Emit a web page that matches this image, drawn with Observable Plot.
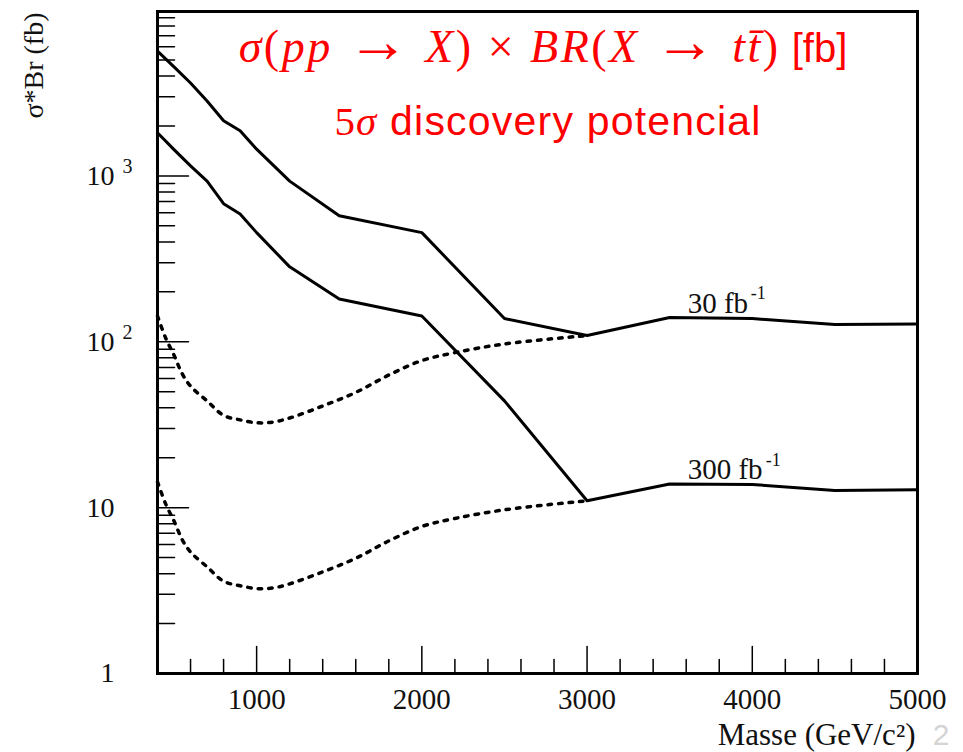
<!DOCTYPE html>
<html>
<head>
<meta charset="utf-8">
<script src="https://cdn.jsdelivr.net/npm/d3@7"></script>
<script src="https://cdn.jsdelivr.net/npm/@observablehq/plot@0.6"></script>
<style>
  html, body { margin: 0; padding: 0; background: #fff; }
  #chart svg { display: block; }
</style>
</head>
<body>
<div id="chart"></div>
<script>
// Resonance mass (GeV/c²) and 5σ discovery reach in σ×BR (fb)
const massSolid = [400, 500, 600, 700, 800, 900, 1000, 1200, 1500, 2000, 2500, 3000, 3500, 4000, 4500, 5000];
const reach30   = [5660, 4540, 3630, 2830, 2150, 1870, 1450, 930, 575, 455, 138, 109, 140, 138, 127, 128];
const reach300  = [1820, 1440, 1150, 930, 680, 590, 455, 283, 181, 143, 44, 11.0, 13.9, 13.8, 12.7, 12.8];

const massDotted = [400, 450, 500, 550, 600, 700, 800, 900, 1000, 1100, 1200, 1400, 1600, 1800, 2000, 2200, 2500, 3000];
const dotted30   = [143, 105, 83, 64, 54, 44, 36, 33.8, 32.5, 32.8, 34.7, 41, 49.5, 63, 77, 86, 97, 109];
const dotted300  = [14.3, 10.5, 8.3, 6.4, 5.4, 4.4, 3.6, 3.38, 3.25, 3.28, 3.47, 4.1, 4.95, 6.3, 7.7, 8.6, 9.7, 11.0];

// Luminosity labels
const lumiNames = ["30", "300"];
const lumiText  = ["30 fb", "300 fb"];
const lumiExp   = ["-1", "-1"];
const labelMass = 3500;

// Axis ticks and labels
const xMajor = [1000, 2000, 3000, 4000, 5000];
const xTickLabels = ["1000", "2000", "3000", "4000", "5000"];
const xMinor = [600, 800, 1200, 1400, 1600, 1800, 2200, 2400, 2600, 2800,
                3200, 3400, 3600, 3800, 4200, 4400, 4600, 4800];
const yTicks = [1, 10, 100, 1000];
const yTickBase = ["1", "10", "10", "10"];
const yTickExp  = ["", "", "2", "3"];
const yMajor = [10, 100, 1000];
const yMinor = [2, 3, 4, 5, 6, 7, 8, 9,
                20, 30, 40, 50, 60, 70, 80, 90,
                200, 300, 400, 500, 600, 700, 800, 900,
                2000, 3000, 4000, 5000, 6000, 7000, 8000, 9000];

const xLabel = "Masse (GeV/c²)";
const yLabel = "σ*Br (fb)";

// Tables for the line marks
const reachSeries = [reach30, reach300];
const dottedSeries = [dotted30, dotted300];
const solidData = lumiNames.flatMap((lumi, k) =>
  massSolid.map((mass, i) => ({mass, value: reachSeries[k][i], lumi})));
const dottedData = lumiNames.flatMap((lumi, k) =>
  massDotted.map((mass, i) => ({mass, value: dottedSeries[k][i], lumi})));
const labelData = lumiNames.map((lumi, k) => ({
  mass: labelMass,
  value: reachSeries[k][massSolid.indexOf(labelMass)],
  text: lumiText[k],
  exp: lumiExp[k]
}));

const serif = "'Liberation Serif', 'Times New Roman', serif";
const sans = "'Liberation Sans', Arial, Helvetica, sans-serif";

// Inward tick: a straight segment drawn from the frame edge
const tickShape = {draw(context, l) { context.moveTo(0, 0); context.lineTo(0, -l); }};
const tickStyle = {anchor: "start", shape: tickShape, stroke: "black", strokeWidth: 1.5};

const chart = Plot.plot({
  width: 963,
  height: 752,
  marginLeft: 157,
  marginRight: 46,
  marginTop: 11,
  marginBottom: 79,
  style: {background: "white", fontFamily: serif, color: "black"},
  x: {domain: [400, 5000], axis: null},
  y: {type: "log", domain: [1, 9800], axis: null},
  marks: [
    // ticks pointing into the frame
    Plot.vectorX(xMinor, {...tickStyle, frameAnchor: "bottom", length: 14}),
    Plot.vectorX(xMajor, {...tickStyle, frameAnchor: "bottom", length: 27}),
    Plot.vectorY(yMinor, {...tickStyle, frameAnchor: "left", rotate: 90, length: 17}),
    Plot.vectorY(yMajor, {...tickStyle, frameAnchor: "left", rotate: 90, length: 31}),

    // tick labels
    Plot.text(xMajor, {x: d => d, frameAnchor: "bottom", dy: 26, lineAnchor: "middle",
      text: (d, i) => xTickLabels[i], fontSize: 29, fill: "#111"}),
    Plot.text(yTicks, {y: d => d, frameAnchor: "left", dx: -43, textAnchor: "end",
      text: (d, i) => yTickBase[i], fontSize: 28, fill: "#111"}),
    Plot.text(yTicks, {y: d => d, frameAnchor: "left", dx: -35, dy: -9, textAnchor: "start",
      text: (d, i) => yTickExp[i], fontSize: 20, fill: "#111"}),

    // expected-background (dotted) and discovery reach (solid) curves
    Plot.line(dottedData, {x: "mass", y: "value", z: "lumi", curve: "catmull-rom",
      stroke: "black", strokeWidth: 3.5, strokeDasharray: "3.5,7"}),
    Plot.line(solidData, {x: "mass", y: "value", z: "lumi",
      stroke: "black", strokeWidth: 3, strokeLinejoin: "round"}),

    // luminosity labels above each curve
    Plot.text(labelData, {x: "mass", y: "value", text: "text", dx: 18, dy: -5,
      textAnchor: "start", lineAnchor: "bottom", fontSize: 29, fill: "#111"}),
    Plot.text(labelData.slice(0, 1), {x: "mass", y: "value", text: "exp", dx: 81, dy: -24,
      textAnchor: "start", lineAnchor: "middle", fontSize: 18, fill: "#111"}),
    Plot.text(labelData.slice(1), {x: "mass", y: "value", text: "exp", dx: 96, dy: -24,
      textAnchor: "start", lineAnchor: "middle", fontSize: 18, fill: "#111"}),

    Plot.frame({stroke: "black", strokeWidth: 3}),

    // axis titles
    Plot.text([yLabel], {frameAnchor: "top-left", rotate: -90, textAnchor: "end",
      lineAnchor: "middle", dx: -123, dy: 1, fontSize: 28, fill: "#111"}),
    Plot.text([xLabel], {frameAnchor: "bottom-right", textAnchor: "end",
      lineAnchor: "bottom", dx: -2, dy: 71, fontSize: 31, fill: "#111",
      letterSpacing: "0.8px"})
  ]
});

// Red headline inside the frame
const svg = d3.select(chart);
const red = "#ff0000";
const line1 = svg.append("text")
  .attr("x", 543).attr("y", 62)
  .attr("text-anchor", "middle")
  .attr("fill", red)
  .attr("font-family", serif)
  .attr("font-size", 46)
  .attr("letter-spacing", "2.5px");
[
  ["σ", "italic"], ["(", "normal"], ["pp", "italic"], [" ", "normal"], ["→", "arrow"], [" ", "normal"],
  ["X", "italic"], [")", "normal"], [" × ", "normal"], ["BR", "italic"], ["(", "normal"],
  ["X", "italic"], [" ", "normal"], ["→", "arrow"], [" ", "normal"], ["tt̄", "italic"], [")", "normal"]
].forEach(([t, s]) => {
  const span = line1.append("tspan").text(t);
  if (s === "arrow") span.attr("font-size", 62).attr("font-style", "normal");
  else span.attr("font-style", s);
});
line1.append("tspan").attr("font-family", sans).attr("font-size", 40).attr("letter-spacing", "0px").text(" [fb]");

const line2 = svg.append("text")
  .attr("x", 548).attr("y", 135)
  .attr("text-anchor", "middle")
  .attr("fill", red)
  .attr("font-size", 41)
  .attr("letter-spacing", "1.2px");
line2.append("tspan").attr("font-family", serif).text("5");
line2.append("tspan").attr("font-family", serif).attr("font-style", "italic").text("σ");
line2.append("tspan").attr("font-family", sans).text(" discovery potencial");

// slide number at the lower right corner
svg.append("text")
  .attr("x", 941).attr("y", 745)
  .attr("fill", "#d4d4d4")
  .attr("font-family", sans)
  .attr("font-size", 30)
  .text("2");

document.getElementById("chart").appendChild(chart);
</script>
</body>
</html>
